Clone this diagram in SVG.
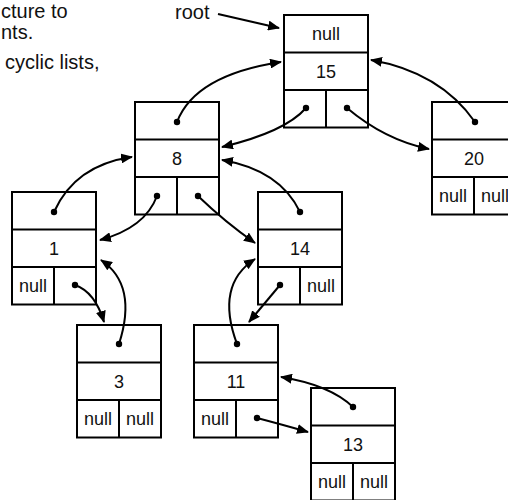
<svg xmlns="http://www.w3.org/2000/svg" width="508" height="500" viewBox="0 0 508 500">
<defs>
<style>
.box{fill:#fff;stroke:#000;stroke-width:2}
.sep{stroke:#000;stroke-width:2}
.t{font-family:"Liberation Sans",Arial,Helvetica,sans-serif;font-size:18px;fill:#111;text-anchor:middle}
.note{font-family:"Liberation Sans",Arial,Helvetica,sans-serif;font-size:20px;fill:#111}
.c{fill:none;stroke:#000;stroke-width:2;marker-end:url(#ah)}
.dot{fill:#000}
</style>
<marker id="ah" markerUnits="userSpaceOnUse" markerWidth="12" markerHeight="10" refX="11" refY="5" orient="auto">
<path d="M0,0 L12,5 L0,10 z" fill="#000"/>
</marker>
<g id="nodeShape">
<rect class="box" x="0" y="0" width="84" height="112.5"/>
<line class="sep" x1="0" y1="37.5" x2="84" y2="37.5"/>
<line class="sep" x1="0" y1="75" x2="84" y2="75"/>
<line class="sep" x1="42" y1="75" x2="42" y2="112.5"/>
</g>
</defs>
<rect width="508" height="500" fill="#fff"/>
<text class="note" x="1" y="18">cture to</text>
<text class="note" x="1" y="39">nts.</text>
<text class="note" x="5" y="69">cyclic lists,</text>
<text class="note" x="175" y="19">root</text>

<g id="n15" transform="translate(284,15)">
<use href="#nodeShape"/>
<text class="t" x="42" y="25">null</text>
<text class="t" x="42" y="63">15</text>
</g>
<g id="n8" transform="translate(135,102)">
<use href="#nodeShape"/>
<text class="t" x="42" y="63">8</text>
</g>
<g id="n20" transform="translate(432,102)">
<use href="#nodeShape"/>
<text class="t" x="42" y="63">20</text>
<text class="t" x="21" y="100">null</text>
<text class="t" x="63" y="100">null</text>
</g>
<g id="n1" transform="translate(12,192)">
<use href="#nodeShape"/>
<text class="t" x="42" y="63">1</text>
<text class="t" x="21" y="100">null</text>
</g>
<g id="n14" transform="translate(258,192)">
<use href="#nodeShape"/>
<text class="t" x="42" y="63">14</text>
<text class="t" x="63" y="100">null</text>
</g>
<g id="n3" transform="translate(77,325)">
<use href="#nodeShape"/>
<text class="t" x="42" y="63">3</text>
<text class="t" x="21" y="100">null</text>
<text class="t" x="63" y="100">null</text>
</g>
<g id="n11" transform="translate(194,325)">
<use href="#nodeShape"/>
<text class="t" x="42" y="63">11</text>
<text class="t" x="21" y="100">null</text>
</g>
<g id="n13" transform="translate(311,388)">
<use href="#nodeShape"/>
<text class="t" x="42" y="63">13</text>
<text class="t" x="21" y="100">null</text>
<text class="t" x="63" y="100">null</text>
</g>

<g id="connectors">
<path class="c" d="M218,14 L279,28"/>
<path class="c" d="M177,122 Q195,75 281,62"/>
<path class="c" d="M306,108 Q285,132 222,147"/>
<path class="c" d="M347,108 Q385,140 429,149"/>
<path class="c" d="M475,122 Q440,72 371,60"/>
<path class="c" d="M54,212 Q75,165 132,157"/>
<path class="c" d="M157,196 Q145,228 100,240"/>
<path class="c" d="M198,196 Q225,222 255,243"/>
<path class="c" d="M300,212 Q280,170 222,160"/>
<path class="c" d="M119,344 Q138,285 101,260"/>
<path class="c" d="M75,285 Q95,292 104,322"/>
<path class="c" d="M280,285 L249,322"/>
<path class="c" d="M237,344 Q215,285 255,259"/>
<path class="c" d="M353,407 Q330,385 281,377"/>
<path class="c" d="M257,418 Q280,424 308,432"/>
<circle class="dot" cx="177" cy="122" r="3.2"/>
<circle class="dot" cx="306" cy="108" r="3.2"/>
<circle class="dot" cx="347" cy="108" r="3.2"/>
<circle class="dot" cx="475" cy="122" r="3.2"/>
<circle class="dot" cx="54" cy="212" r="3.2"/>
<circle class="dot" cx="157" cy="196" r="3.2"/>
<circle class="dot" cx="198" cy="196" r="3.2"/>
<circle class="dot" cx="300" cy="212" r="3.2"/>
<circle class="dot" cx="119" cy="344" r="3.2"/>
<circle class="dot" cx="75" cy="285" r="3.2"/>
<circle class="dot" cx="280" cy="285" r="3.2"/>
<circle class="dot" cx="237" cy="344" r="3.2"/>
<circle class="dot" cx="353" cy="407" r="3.2"/>
<circle class="dot" cx="257" cy="418" r="3.2"/>
</g>
</svg>
